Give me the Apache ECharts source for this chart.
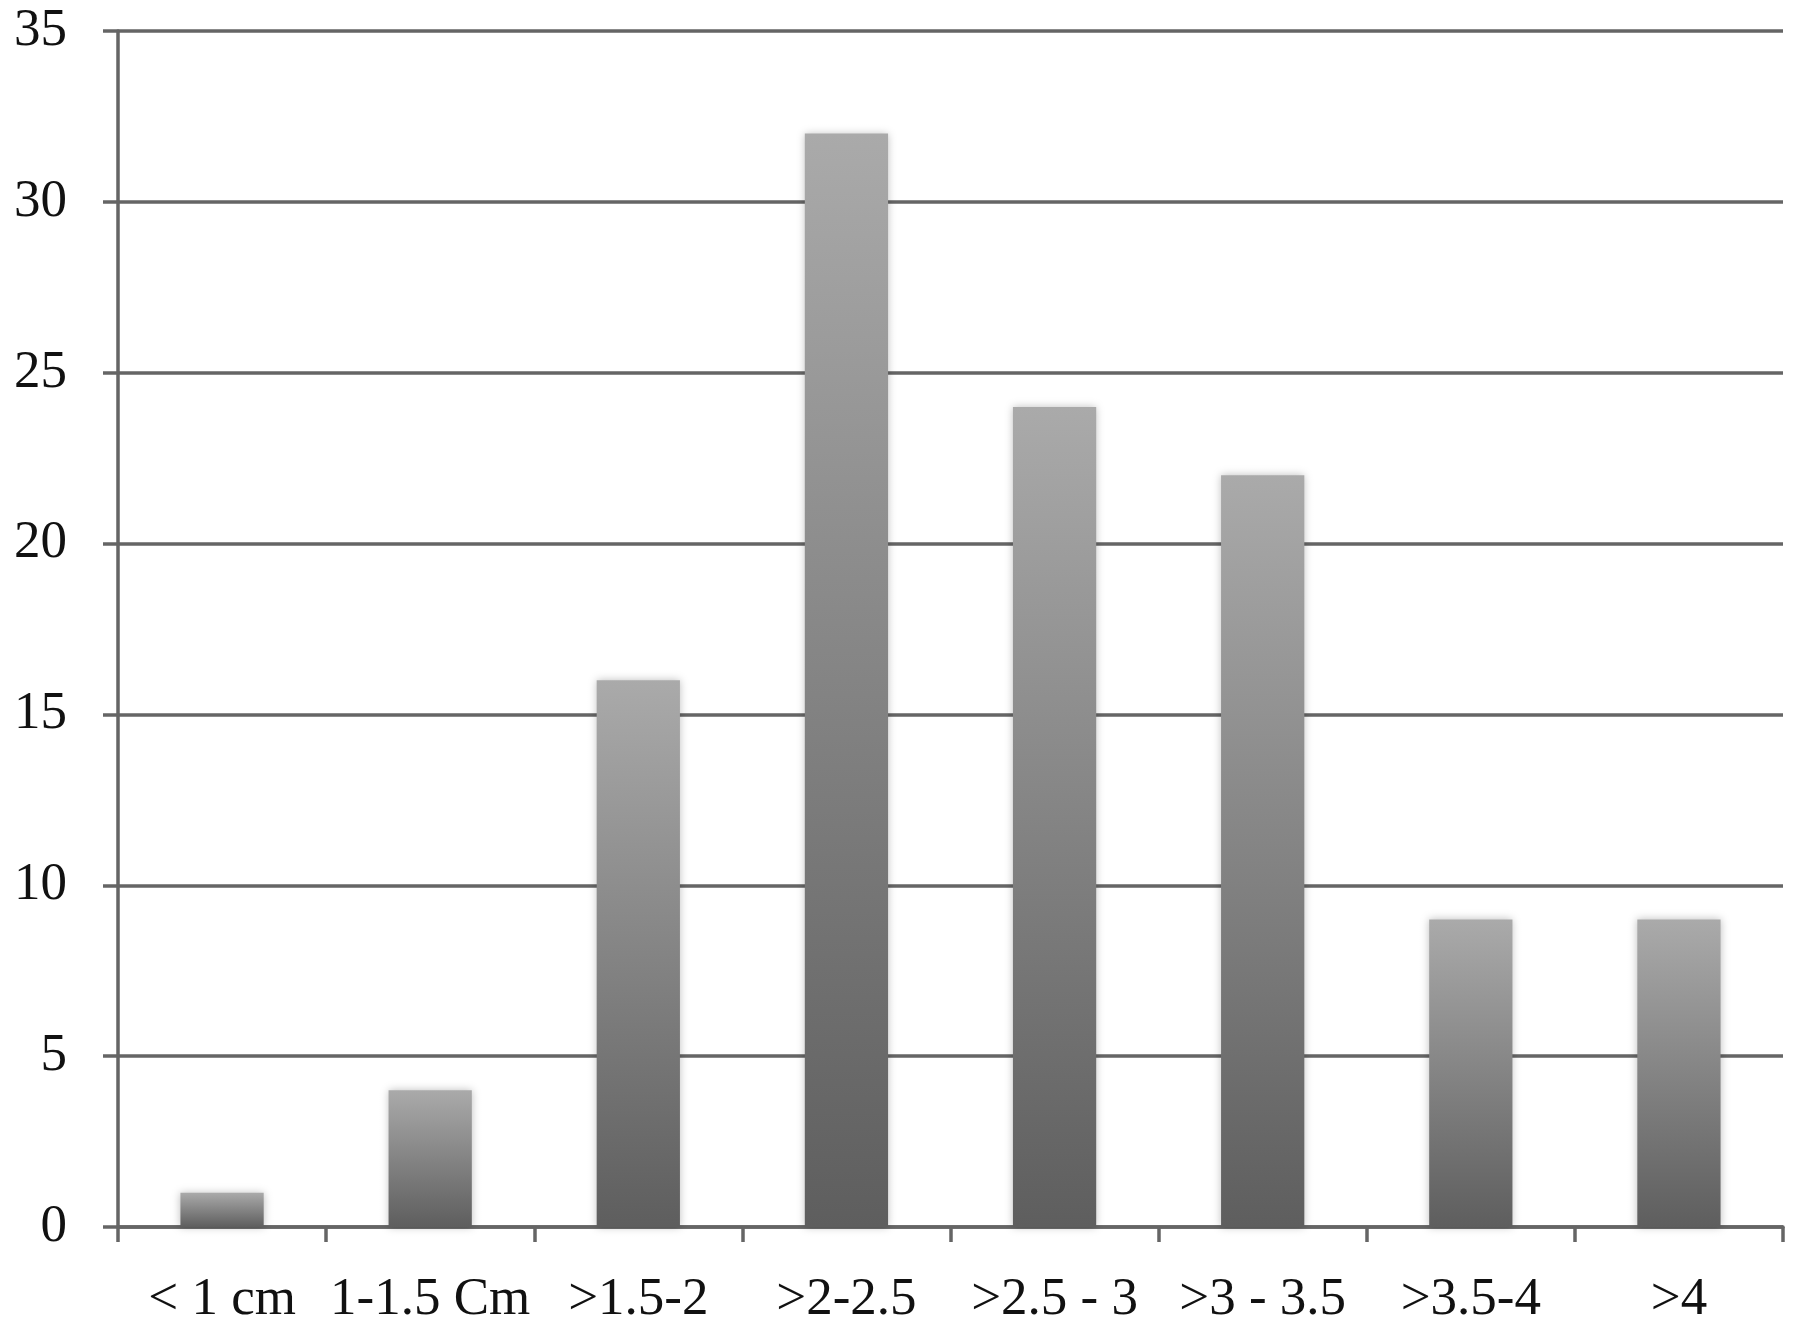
<!DOCTYPE html>
<html>
<head>
<meta charset="utf-8">
<script src="https://cdn.jsdelivr.net/npm/echarts@6/dist/echarts.min.js"></script>
<style>html,body{margin:0;padding:0;background:#fff;}#c{width:1800px;height:1330px;}</style>
</head>
<body>
<div id="c"></div>
<script>
const categories = ['< 1 cm', '1-1.5 Cm', '>1.5-2', '>2-2.5', '>2.5 - 3', '>3 - 3.5', '>3.5-4', '>4'];
const values = [1, 4, 16, 32, 24, 22, 9, 9];
const yTicks = [0, 5, 10, 15, 20, 25, 30, 35];

const chart = echarts.init(document.getElementById('c'));
const font = '"Liberation Serif", "DejaVu Serif", serif';
const lineColor = '#656565';
chart.setOption({
  animation: false,
  backgroundColor: '#ffffff',
  grid: { left: 118, right: 17, top: 31, bottom: 103, containLabel: false },
  xAxis: {
    type: 'category',
    data: categories,
    boundaryGap: true,
    axisLine: { show: true, lineStyle: { color: lineColor, width: 3.5 } },
    axisTick: { show: true, alignWithLabel: false, length: 15, lineStyle: { color: lineColor, width: 3.5 } },
    axisLabel: { fontFamily: font, fontSize: 53, color: '#111', margin: 47, interval: 0 }
  },
  yAxis: {
    type: 'value',
    min: yTicks[0],
    max: yTicks[yTicks.length - 1],
    interval: 5,
    axisLine: { show: true, lineStyle: { color: lineColor, width: 3.5 } },
    axisTick: { show: true, length: 15, lineStyle: { color: lineColor, width: 3.5 } },
    splitLine: { show: true, lineStyle: { color: lineColor, width: 3.5 } },
    axisLabel: { fontFamily: font, fontSize: 53, color: '#111', margin: 51, padding: [8, 0, 0, 0] }
  },
  series: [{
    type: 'bar',
    data: values,
    barCategoryGap: '60%',
    itemStyle: {
      color: {
        type: 'linear', x: 0, y: 0, x2: 0, y2: 1,
        colorStops: [
          { offset: 0, color: '#aaaaaa' },
          { offset: 1, color: '#5e5e5e' }
        ]
      },
      shadowBlur: 8,
      shadowColor: 'rgba(0,0,0,0.25)'
    }
  }]
});
</script>
</body>
</html>
